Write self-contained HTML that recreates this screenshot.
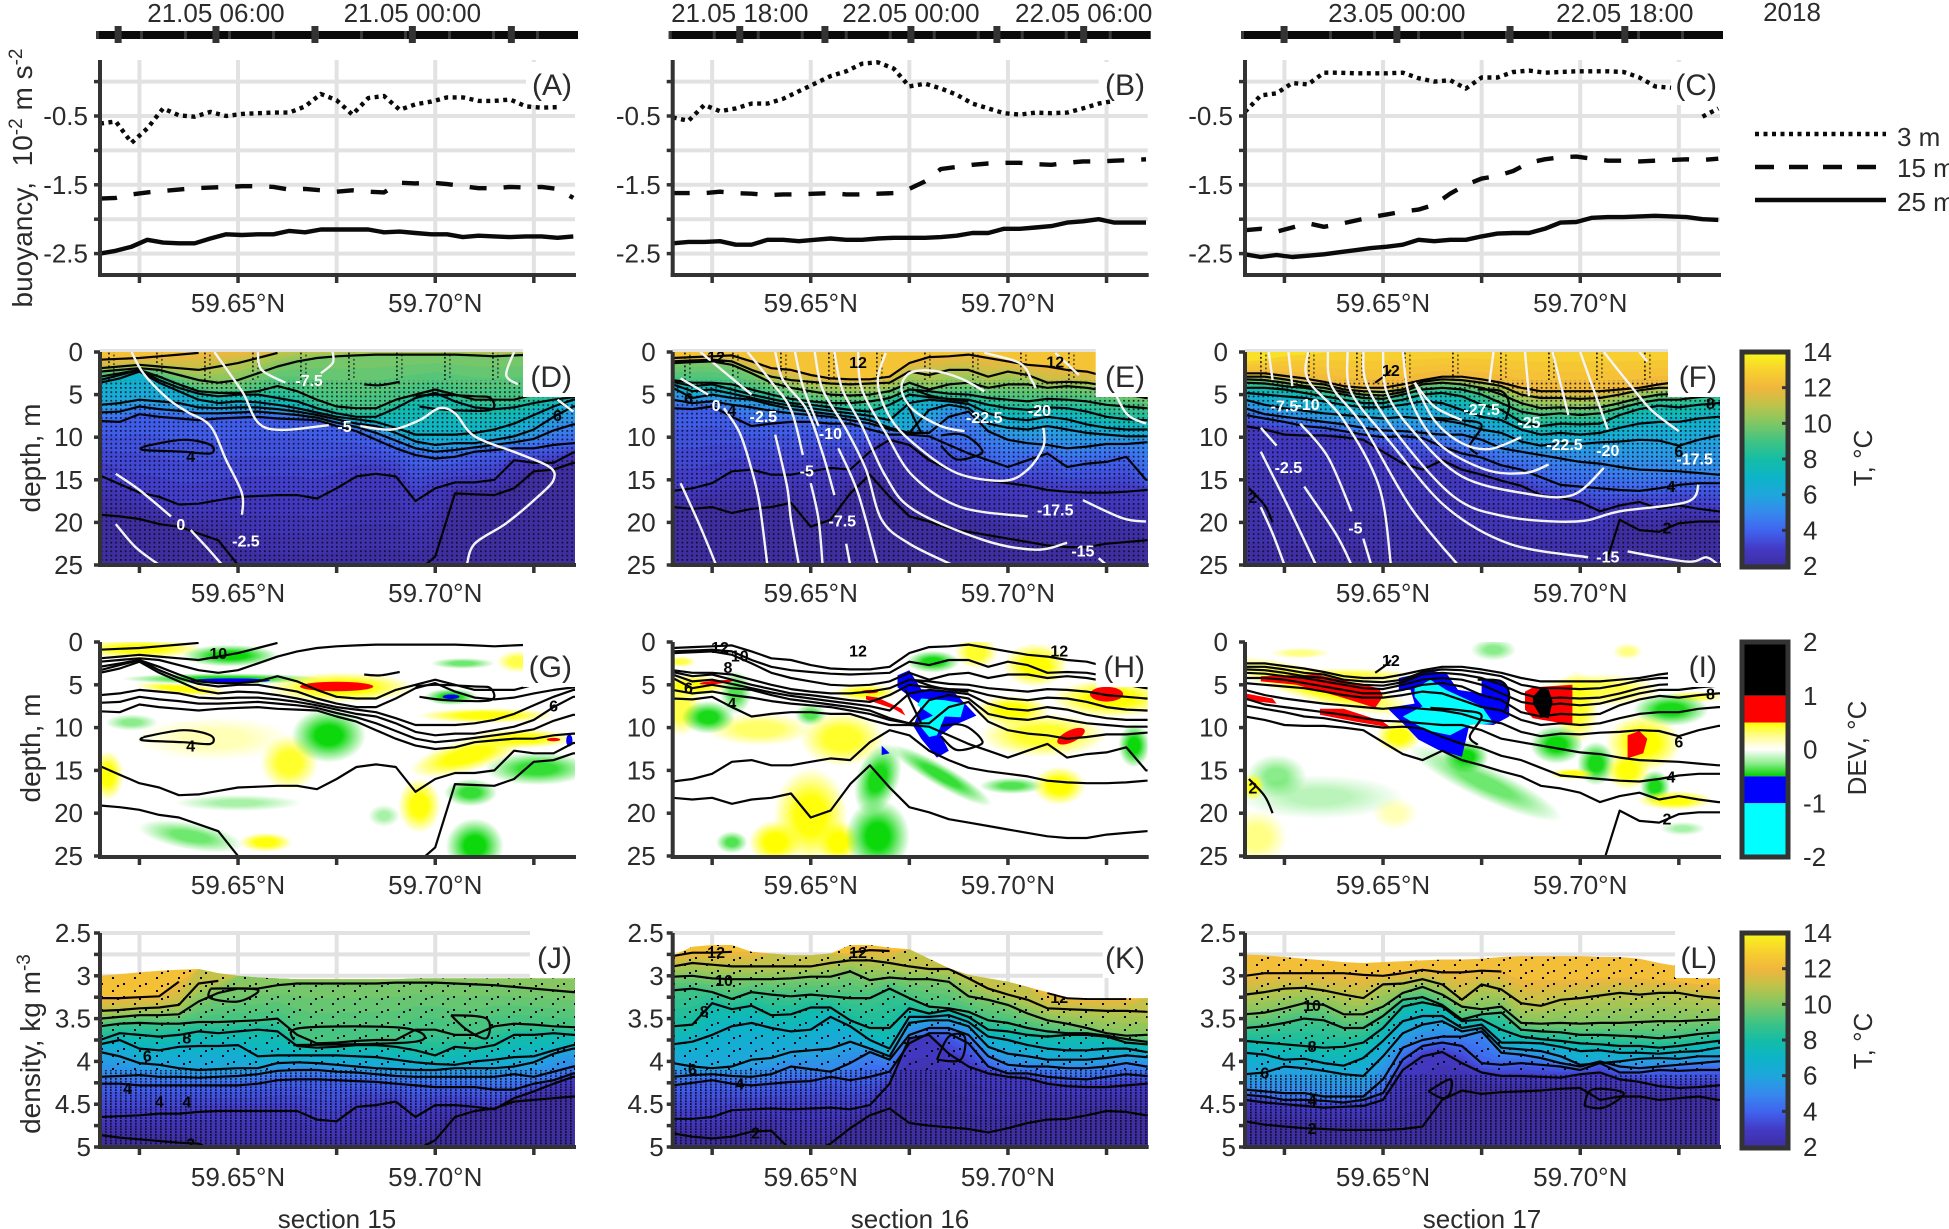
<!DOCTYPE html>
<html lang="en">
<head>
<meta charset="utf-8">
<title>Buoyancy and temperature sections 15-17</title>
<style>
html,body{margin:0;padding:0;background:#fff}
svg{display:block}
text{font-family:"Liberation Sans",Arial,sans-serif;fill:#2b2b2b}
</style>
</head>
<body>
<svg id="figure" xmlns="http://www.w3.org/2000/svg" width="1949" height="1229" viewBox="0 0 1949 1229">
<defs>
<pattern id="dotsDepth" width="4.8" height="4.3" patternUnits="userSpaceOnUse"><rect width="1.7" height="1.7" fill="#07071a" fill-opacity="0.85"/></pattern>
<pattern id="dotsColumn" width="48" height="4.3" patternUnits="userSpaceOnUse"><rect x="12" width="1.8" height="1.8" fill="#07071a" fill-opacity="0.85"/><rect x="17" y="2" width="1.8" height="1.8" fill="#07071a" fill-opacity="0.6"/></pattern>
<pattern id="dotsDense" width="5" height="2.8" patternUnits="userSpaceOnUse"><rect width="1.7" height="1.8" fill="#07071a" fill-opacity="0.85"/></pattern>
<pattern id="dotsSparse" width="22" height="13" patternUnits="userSpaceOnUse"><rect x="2" y="2" width="2" height="2" fill="#07071a"/><rect x="13" y="8" width="2" height="2" fill="#07071a"/><rect x="7" y="10" width="2" height="2" fill="#07071a"/></pattern>
<radialGradient id="softYellow"><stop offset="0" stop-color="#ffff00"/><stop offset="0.4" stop-color="#ffff00"/><stop offset="0.7" stop-color="#ffff00" stop-opacity="0.5"/><stop offset="1" stop-color="#ffff00" stop-opacity="0"/></radialGradient>
<radialGradient id="softGreen"><stop offset="0" stop-color="#0cd80c"/><stop offset="0.35" stop-color="#0cd80c"/><stop offset="0.7" stop-color="#0cd80c" stop-opacity="0.45"/><stop offset="1" stop-color="#0cd80c" stop-opacity="0"/></radialGradient>
<linearGradient id="tempGradient" x1="0" y1="1" x2="0" y2="0"></linearGradient>
<linearGradient id="devGradient" x1="0" y1="0" x2="0" y2="1">
<stop offset="0" stop-color="#ffff00"/><stop offset="0.25" stop-color="#fffc90"/><stop offset="0.5" stop-color="#ffffff"/><stop offset="0.75" stop-color="#90ee90"/><stop offset="1" stop-color="#00d000"/>
</linearGradient>
</defs>
<g id="marks"></g>
<g id="static-text">
<g font-size="26" text-anchor="middle">
<text x="337" y="1228">section 15</text>
<text x="910" y="1228">section 16</text>
<text x="1482" y="1228">section 17</text>
<text x="1792" y="21">2018</text>
</g>
<g font-size="26">
<text x="1897" y="146">3 m</text>
<text x="1897" y="177">15 m</text>
<text x="1897" y="211">25 m</text>
</g>
<g font-size="28" text-anchor="middle">
<text transform="translate(32,178) rotate(-90)">buoyancy,&#160;&#160;10<tspan font-size="19" dy="-10">-2</tspan><tspan dy="10">&#160;m s</tspan><tspan font-size="19" dy="-10">-2</tspan></text>
<text transform="translate(40,458) rotate(-90)">depth, m</text>
<text transform="translate(40,748) rotate(-90)">depth, m</text>
<text transform="translate(40,1044) rotate(-90)">density, kg m<tspan font-size="19" dy="-10">-3</tspan></text>
</g>
<g font-size="26" text-anchor="middle">
<text transform="translate(1872,458) rotate(-90)">T, °C</text>
<text transform="translate(1866,748) rotate(-90)">DEV, °C</text>
<text transform="translate(1872,1041) rotate(-90)">T, °C</text>
</g>
<g font-size="30" text-anchor="end">
<text x="572" y="95">(A)</text>
<text x="1145" y="95">(B)</text>
<text x="1717" y="95">(C)</text>
<text x="572" y="387">(D)</text>
<text x="1145" y="387">(E)</text>
<text x="1717" y="387">(F)</text>
<text x="572" y="677">(G)</text>
<text x="1145" y="677">(H)</text>
<text x="1717" y="677">(I)</text>
<text x="572" y="968">(J)</text>
<text x="1145" y="968">(K)</text>
<text x="1717" y="968">(L)</text>
</g>
</g>
</svg>
<script>
/* ---------- axis data ---------- */
const xTicks=[59.625,59.65,59.675,59.70,59.725];
const xLabelTicks=[59.65,59.70];
const xLabels=['59.65°N','59.70°N'];
const buoyTicks=[0,-0.5,-1,-1.5,-2,-2.5];
const buoyLabelTicks=[-0.5,-1.5,-2.5];
const buoyLabels=['-0.5','-1.5','-2.5'];
const depthTicks=[0,5,10,15,20,25];
const depthLabels=['0','5','10','15','20','25'];
const densTicks=[2.5,2.75,3,3.25,3.5,3.75,4,4.25,4.5,4.75,5];
const densLabelTicks=[2.5,3,3.5,4,4.5,5];
const densLabels=['2.5','3','3.5','4','4.5','5'];
const tempTicks=[14,12,10,8,6,4,2];
const devTicks=[2,1,0,-1,-2];
const timeTicksA=[59.6196,59.6444,59.6695,59.6942,59.7193];
const timeTicksB=[59.632,59.6536,59.6754,59.6972,59.7192];
const timeTicksC=[59.6249,59.6535,59.6822,59.7113];
const timeLabelsA=[null,'21.05 06:00',null,'21.05 00:00',null];
const timeLabelsB=['21.05 18:00',null,'22.05 00:00',null,'22.05 06:00'];
const timeLabelsC=[null,'23.05 00:00',null,'22.05 18:00'];

/* ---------- buoyancy series, 10^-2 m s^-2 ---------- */
const lineLat=[59.615,59.619,59.623,59.627,59.631,59.635,59.639,59.643,59.647,59.651,59.655,59.659,59.663,59.667,59.671,59.675,59.679,59.683,59.687,59.691,59.695,59.699,59.703,59.707,59.711,59.715,59.719,59.723,59.727,59.731,59.735];
const buoyA3=[-0.61,-0.58,-0.89,-0.68,-0.39,-0.49,-0.51,-0.44,-0.5,-0.47,-0.46,-0.45,-0.45,-0.36,-0.18,-0.27,-0.48,-0.24,-0.21,-0.41,-0.33,-0.29,-0.23,-0.23,-0.28,-0.28,-0.26,-0.36,-0.38,-0.37];
const buoyA15=[-1.70,-1.69,-1.64,-1.61,-1.59,-1.57,-1.55,-1.54,-1.53,-1.52,-1.52,-1.53,-1.57,-1.56,-1.58,-1.60,-1.58,-1.60,-1.61,-1.47,-1.48,-1.47,-1.49,-1.52,-1.55,-1.55,-1.53,-1.54,-1.53,-1.56,-1.69];
const buoyA25=[-2.50,-2.46,-2.40,-2.30,-2.34,-2.35,-2.35,-2.28,-2.22,-2.23,-2.22,-2.22,-2.17,-2.19,-2.15,-2.15,-2.15,-2.15,-2.19,-2.18,-2.20,-2.22,-2.22,-2.26,-2.24,-2.25,-2.26,-2.25,-2.25,-2.27,-2.25];
const buoyB3=[-0.52,-0.57,-0.34,-0.43,-0.39,-0.32,-0.32,-0.25,-0.14,-0.03,0.08,0.15,0.26,0.28,0.19,-0.07,-0.03,-0.10,-0.19,-0.32,-0.39,-0.46,-0.48,-0.45,-0.46,-0.45,-0.39,-0.32,-0.28];
const buoyB15=[-1.62,-1.62,-1.62,-1.60,-1.62,-1.63,-1.65,-1.64,-1.64,-1.63,-1.62,-1.64,-1.64,-1.63,-1.62,-1.56,-1.45,-1.27,-1.24,-1.21,-1.19,-1.18,-1.18,-1.20,-1.21,-1.18,-1.16,-1.16,-1.15,-1.14,-1.13];
const buoyB25=[-2.35,-2.33,-2.33,-2.32,-2.37,-2.37,-2.30,-2.30,-2.32,-2.30,-2.28,-2.30,-2.30,-2.28,-2.27,-2.27,-2.27,-2.26,-2.24,-2.20,-2.20,-2.14,-2.14,-2.12,-2.10,-2.05,-2.03,-2.00,-2.05,-2.05,-2.05];
const buoyC3=[-0.44,-0.20,-0.17,-0.02,-0.04,0.13,0.13,0.12,0.12,0.12,0.13,0.05,0,0.02,-0.10,0.06,0.06,0.14,0.16,0.13,0.14,0.15,0.15,0.15,0.14,0.06,-0.07,-0.09,null,-0.51,-0.39];
const buoyC15=[-2.16,-2.14,-2.18,-2.12,-2.06,-2.11,-2.07,-2.02,-1.97,-1.93,-1.89,-1.86,-1.79,-1.63,-1.50,-1.41,-1.37,-1.30,-1.18,-1.13,-1.10,-1.09,-1.12,-1.15,-1.15,-1.16,-1.15,-1.14,-1.13,-1.14,-1.12];
const buoyC25=[-2.51,-2.55,-2.52,-2.55,-2.53,-2.51,-2.48,-2.45,-2.42,-2.40,-2.37,-2.30,-2.32,-2.30,-2.30,-2.25,-2.21,-2.20,-2.20,-2.14,-2.05,-2.04,-1.98,-1.97,-1.97,-1.96,-1.95,-1.96,-1.97,-2.00,-2.01];

/* ---------- isotherm depths (m) at stations ---------- */
const stations=[59.615,59.62,59.625,59.63,59.635,59.64,59.645,59.65,59.655,59.66,59.665,59.67,59.675,59.68,59.685,59.69,59.695,59.70,59.705,59.71,59.715,59.72,59.725,59.73,59.735];
const D2=[19.1,19.3,19.6,20.2,20.5,21.3,22.1,25,26,26,26,26,26,26,26,26,26,24,16.6,16.7,16.8,16,14,13.8,13];
const D3=[14.5,15.5,16.5,17,17.9,17.8,17.4,17,16.9,16.8,16.8,17.2,16,14.6,14.3,14.6,17.5,16,15.3,15.3,15,12.7,13,13,11.8];
const D4=[8.1,8.2,7.3,7.6,7.8,8,7.8,7.7,7.6,7.8,7.9,8,8.7,9.3,10.3,11.3,12.1,12.5,12.3,11.7,11.5,11.3,11.3,10.9,10.7];
const D5=[7.1,7,6.4,6.7,6.9,7.2,7.2,7.1,7,7.2,7.4,7.7,8.3,8.8,9.5,10.4,11.3,11.7,11.5,11.2,10.9,10.6,10.2,9.2,8.5];
const D6=[6.2,6,5.6,5.8,6,6.5,6.6,6.5,6.5,6.7,7,7.4,7.9,8.4,8.7,9.5,10.5,10.9,10.7,10.7,10.3,9.9,9.1,7.6,6.4];
const D7=[3.6,3.1,2.3,3.6,4.6,5.6,6,5.8,5.9,6.2,6.6,7.1,7.6,7.9,8.2,8.9,9.7,9.7,9.7,9.5,9.1,8.4,7.4,6.4,5.6];
const D8=[3.3,2.7,2.1,3.3,4.2,4.9,5.2,5,5,5.4,5.8,6.6,7.2,7.6,7.6,6.6,5.4,4.8,5.8,6.5,6.7,6.5,6,5.6,5.3];
const D9=[2.9,2.5,2.1,2.9,3.8,4.6,4.8,4.8,4.6,4,4.6,5.6,6.4,6.6,6.6,5.6,5,4.4,5,5.6,5.6,5.6,5,4.6,4.4];
const D10=[2.3,2.1,1.9,2.1,2.7,3.3,3.6,3.3,2.5,1.7,1.1,0.7,0.5,0.4,0.3,0.3,0.3,0.3,0.3,0.4,0.5,0.4,0.3,0.2,0.1];
const D11=[1.9,1.7,1.5,1.7,1.9,2.1,1.7,1.3,0.7,0.1,0,0,0,0,0,0,0,0,0,0,0,0,0,0,0];
const D12=[0.9,0.8,0.7,0.5,0.3,0.1,0,0,0,0,0,0,0,0,0,0,0,0,0,0,0,0,0,0,0];

const E2=[18.2,18.4,18.2,18.9,18.4,18.2,17.7,20.5,19.7,16.6,14.4,17,19.3,19.9,20.7,21.1,21.5,21.9,22.3,22.7,22.9,22.9,22.5,22.3,22.1];
const E3=[16.3,16,15.4,14,13.8,14.4,14.4,14,13.6,13.8,11.7,10.3,10.9,12.7,13.8,14.7,15.1,15.4,15.7,16.2,16.4,16.5,16.5,16.4,16.2];
const E4=[6.6,6.7,6.4,7.6,8.7,8.4,8.2,8.2,8.4,8.4,9.1,9.7,9.7,9.9,10.9,11.9,12.7,13.5,12.7,11.9,13.5,13.1,12.9,12.3,15];
const E5=[5.6,6,5.8,6.2,6.5,6.9,7.2,7.4,7.6,8,8.4,9.1,9.5,9.5,7.6,7,9.3,10.3,10.7,10.9,11.3,11.1,10.8,10.8,10.6];
const E6=[4.2,5.4,5,5.4,5.6,6.2,6.7,7,7.3,7.6,8,8.9,9.5,6.8,6.2,6.6,8.4,8.9,9.1,8.7,9.1,9.5,9.7,9.9,9.9];
const E7=[3.8,4.6,4.4,4.9,5.4,5.9,6.3,6.6,6.9,7.2,7.5,8,6,5.6,5.8,6.1,7.2,7.8,8,7.6,7.9,8.5,8.9,9.1,9.1];
const E8=[3.5,4,3.8,4.4,5,5.5,6,6.2,6.5,6.8,7,6.2,5,5.3,5.5,5.6,6.2,6.6,6.8,6.5,6.6,7,7.6,7.9,8];
const E9=[3.3,3.6,3.6,3.8,4.4,5,5.5,5.8,6,6,5.8,5.4,4.4,4.6,4.9,5,5.4,5.6,5.8,5.5,5.6,5.8,6.2,6.4,6.6];
const E10=[1.3,1.2,1.1,1.5,2.5,3.6,4.2,4.6,5,5.1,5,4.6,3.6,4.4,3.8,3.6,4.2,3.8,3.8,4.2,4,4.2,4.6,5,5.4];
const E11=[1.1,1,0.9,1.1,2.1,2.9,3.3,3.5,3.7,3.8,3.7,3.6,2.3,2.7,2.1,2.1,2.9,2.3,2.7,3.6,3.5,3.6,4,4.2,4.6];
const E12=[0.7,0.6,0.5,0.4,1.1,1.9,2.1,2.7,3.1,3.2,3.2,2.9,1.3,0.6,0.5,0.3,0.7,1.1,1.5,1.7,2.1,2.3,2.9,3.5,3.8];

const F2=[27,27,27,27,27,27,27,27,27,27,27,27,27,27,27,27,27,27,27,19.7,20.9,21.1,20.1,19.9,19.9];
const F3=[8.7,9.1,9.7,9.8,9.8,10,10.3,11.7,13.1,13.8,12.7,13.8,14.4,15.1,15.7,16.8,17.1,17.6,18.7,18,17.6,18.4,18,18.4,18.7];
const F4=[7.4,7.8,8.2,8.7,8.9,9.3,9.7,10,9.9,10.1,11.1,11.9,12.4,13.3,13.8,14.7,15.6,15.8,16,16.2,16.3,16,15.6,15.4,15.4];
const F5=[6.6,7.3,7.6,7.9,8.2,8.5,8.9,9.2,9.3,9.5,9.7,9.7,10.3,11.3,11.7,12.1,12.5,12.9,13.1,13.5,13.8,13.9,14,14.2,14.4];
const F6=[5.6,6.2,6.6,6.9,7.2,7.4,7.6,7.8,7.6,7.8,8,8.4,9.1,9.5,10.5,11,10.7,10.8,10.6,10.5,10.3,10.4,11,10.3,9.8];
const F7=[4.8,5,5.2,5.4,5.8,6.2,6.5,6.5,6.2,5.8,6,6.8,7.6,8,9.1,9.7,9.5,9.7,9.5,8.9,8.4,8.2,8.2,7.8,7.6];
const F8=[4.2,4.2,4.4,4.8,5.2,5.6,6,6,5.6,5,4.8,5.2,6.2,6.8,8.2,8.7,8.4,8.5,8.4,7.4,6.7,6.3,6.5,6.2,6];
const F9=[3.6,3.7,4,4.2,4.6,5,5.4,5.5,5,4.4,4.2,4.4,5,6,7,7.4,7.2,7.4,7.2,6.6,6,5.6,5.6,5.3,5.1];
const F10=[3.2,3.3,3.6,4,4.2,4.7,5,5.1,4.7,3.8,3.6,3.8,4.2,5,6,6.6,6.5,6.6,6.5,6,5.4,5,4.9,4.6,4.4];
const F11=[2.9,2.9,3.2,3.6,3.8,4.4,4.6,4.7,4.4,3.5,3.2,3.3,3.6,4,5,5.4,5.4,5.5,5.4,5,4.5,4.2,4.2,4.2,4.2];
const F12=[2.5,2.5,2.8,3.1,3.5,4,4.2,4.2,3.8,3.3,2.9,2.9,3.2,3.6,4.2,4.6,4.6,4.6,4.6,4.4,4.2,3.8,3.5,3.2,3.2];
const F13=[1.1,0.9,0.5,0.3,0.1,0,0,0,0,0,0,0,0,0,0,0,0,0,0,0,0,0,0,0,0];

/* ---------- isotherm densities (kg m^-3) at stations ---------- */
const surfJ=[3.00,2.98,2.96,2.94,2.93,2.92,2.97,3.00,3.02,3.03,3.04,3.04,3.04,3.04,3.04,3.04,3.03,3.03,3.03,3.03,3.03,3.03,3.03,3.03,3.03];
const J2=[4.86,4.89,4.91,4.93,4.95,4.96,5.07,5.07,5.07,5.07,5.07,5.07,5.07,5.07,5.07,5.07,5.04,4.92,4.65,4.58,4.55,4.47,4.45,4.43,4.41];
const J3=[4.65,4.64,4.63,4.61,4.61,4.59,4.58,4.58,4.58,4.58,4.58,4.68,4.70,4.53,4.51,4.47,4.65,4.51,4.51,4.53,4.56,4.43,4.35,4.26,4.18];
const J4=[4.26,4.26,4.28,4.28,4.28,4.28,4.28,4.28,4.26,4.22,4.21,4.21,4.22,4.23,4.24,4.26,4.28,4.30,4.30,4.30,4.33,4.33,4.26,4.22,4.14];
const J5=[4.18,4.17,4.16,4.18,4.18,4.19,4.18,4.17,4.15,4.11,4.10,4.10,4.12,4.13,4.15,4.17,4.18,4.18,4.18,4.18,4.18,4.15,4.18,4.12,4.06];
const J6=[3.89,3.94,4.02,4.04,4.08,4.10,4.09,4.08,4.08,4.02,4.01,4.02,4.04,4.06,4.08,4.09,4.10,4.10,4.08,4.08,4.08,4.06,4.01,3.91,3.85];
const J7=[3.80,3.75,3.85,3.87,3.83,3.82,3.82,3.81,3.94,3.93,3.93,3.93,3.93,3.94,3.95,3.98,4.01,4.03,4.04,4.00,3.98,3.95,3.94,3.87,3.81];
const J8=[3.75,3.67,3.69,3.71,3.69,3.65,3.67,3.65,3.63,3.65,3.82,3.84,3.83,3.81,3.81,3.83,3.87,3.93,3.83,3.85,3.81,3.69,3.69,3.67,3.69];
const J9=[3.59,3.56,3.55,3.56,3.56,3.54,3.54,3.53,3.52,3.50,3.69,3.79,3.78,3.76,3.75,3.75,3.63,3.63,3.69,3.69,3.59,3.56,3.57,3.59,3.60];
const J10=[3.50,3.48,3.46,3.46,3.45,3.30,3.20,3.15,3.15,3.11,3.09,3.09,3.09,3.09,3.09,3.08,3.08,3.08,3.09,3.10,3.11,3.13,3.15,3.17,3.19];
const J11=[3.41,3.40,3.38,3.37,3.34,3.09,3.06,0,0,0,0,0,0,0,0,0,0,0,0,0,0,0,0,0,0];
const J12=[3.26,3.26,3.25,3.24,3.07,0,0,0,0,0,0,0,0,0,0,0,0,0,0,0,0,0,0,0,0];

const surfK=[2.76,2.66,2.64,2.64,2.72,2.74,2.76,2.76,2.74,2.64,2.64,2.67,2.69,2.80,2.91,2.99,3.03,3.07,3.13,3.19,3.25,3.26,3.26,3.26,3.26];
const K2=[4.84,4.88,4.90,4.88,4.82,4.81,5.04,5.07,4.96,4.78,4.63,4.55,4.72,4.75,4.77,4.79,4.83,4.78,4.72,4.68,4.67,4.63,4.58,4.59,4.63];
const K3=[4.67,4.67,4.65,4.57,4.56,4.55,4.56,4.55,4.54,4.56,4.51,4.26,3.73,3.69,3.91,4.06,4.14,4.18,4.20,4.26,4.29,4.30,4.30,4.28,4.26];
const K4=[4.28,4.25,4.22,4.26,4.28,4.26,4.24,4.23,4.18,4.22,4.18,4.12,3.79,3.67,3.67,3.79,4.06,4.14,4.14,4.18,4.20,4.21,4.18,4.15,4.17];
const K5=[4.18,4.16,4.15,4.17,4.18,4.15,4.06,4.09,4.12,4.02,3.89,3.98,3.69,3.61,3.61,3.69,3.94,4.04,4.06,4.06,4.08,4.08,4.06,4.02,4.06];
const K6=[4.02,4.06,4.08,4.06,3.98,3.96,3.89,3.87,3.85,3.77,3.85,3.94,3.55,3.52,3.52,3.59,3.83,3.91,3.94,3.98,3.98,3.98,3.96,3.93,3.95];
const K7=[3.80,3.77,3.69,3.59,3.55,3.61,3.65,3.63,3.48,3.59,3.75,3.85,3.48,3.48,3.46,3.54,3.71,3.75,3.81,3.85,3.87,3.87,3.85,3.85,3.89];
const K8=[3.59,3.57,3.32,3.39,3.35,3.46,3.45,3.37,3.37,3.52,3.61,3.61,3.38,3.44,3.40,3.48,3.63,3.65,3.69,3.71,3.69,3.69,3.71,3.78,3.80];
const K9=[3.17,3.15,3.19,3.27,3.19,3.22,3.24,3.22,3.24,3.26,3.26,3.15,3.26,3.36,3.38,3.42,3.52,3.55,3.61,3.65,3.67,3.67,3.70,3.74,3.77];
const K10=[3.01,3.00,3.03,3.04,3.04,3.04,3.03,3.01,3.01,2.95,3.05,3.02,3.04,3.04,3.07,3.24,3.28,3.34,3.44,3.52,3.56,3.61,3.67,3.70,3.69];
const K11=[2.89,2.85,2.87,2.89,2.89,2.89,2.89,2.89,2.85,2.82,2.82,2.85,2.89,2.92,2.92,3.03,3.15,3.22,3.28,3.38,3.39,3.40,3.41,3.41,3.42];
const K12=[2.77,2.73,2.73,2.72,2.72,0,0,0,0,2.73,2.70,2.71,0,0,0,0,0,0,0,3.20,3.26,3.27,3.27,3.27,0];

const surfL=[2.75,2.76,2.78,2.80,2.82,2.84,2.85,2.84,2.83,2.82,2.81,2.81,2.80,2.78,2.77,2.77,2.77,2.77,2.78,2.78,2.80,2.85,2.89,3.03,3.03];
const L2=[4.70,4.74,4.76,4.78,4.79,4.80,4.80,4.80,4.79,4.76,4.45,4.34,4.38,4.36,4.35,4.34,4.32,4.31,4.45,4.41,4.41,4.45,4.43,4.41,4.45];
const L3=[4.45,4.48,4.50,4.52,4.54,4.53,4.52,4.45,4.10,3.94,3.89,4.02,4.13,4.17,4.17,4.18,4.19,4.15,4.13,4.21,4.24,4.29,4.31,4.30,4.28];
const L4=[4.39,4.41,4.45,4.45,4.46,4.48,4.45,4.37,3.98,3.82,3.78,3.82,4.02,4.04,4.02,4.04,4.06,4.10,4.02,4.13,4.13,4.10,4.11,4.10,4.10];
const L5=[4.33,4.35,4.37,4.37,4.41,4.41,4.41,4.21,3.84,3.75,3.71,3.71,3.65,3.90,3.92,3.96,4.02,4.06,4.00,4.06,4.08,4.06,4.04,4.02,4.00];
const L6=[4.15,4.13,4.06,4.08,4.11,4.15,4.17,3.94,3.67,3.57,3.53,3.65,3.61,3.84,3.86,3.88,3.94,4.04,4.02,4.00,3.97,3.96,3.97,3.94,3.94];
const L7=[3.90,3.92,3.98,3.97,4.02,4.05,3.96,3.76,3.53,3.47,3.47,3.61,3.57,3.78,3.78,3.79,3.83,3.88,3.87,3.90,3.90,3.91,3.89,3.88,3.84];
const L8=[3.76,3.78,3.80,3.82,3.84,3.83,3.78,3.61,3.36,3.31,3.36,3.53,3.51,3.63,3.71,3.74,3.76,3.79,3.80,3.82,3.82,3.84,3.82,3.79,3.76];
const L9=[3.61,3.59,3.55,3.50,3.52,3.61,3.61,3.47,3.28,3.25,3.34,3.51,3.45,3.43,3.63,3.65,3.66,3.69,3.69,3.70,3.71,3.73,3.71,3.68,3.66];
const L10=[3.45,3.43,3.38,3.32,3.34,3.45,3.45,3.36,3.20,3.13,3.22,3.36,3.39,3.36,3.55,3.56,3.55,3.56,3.55,3.55,3.54,3.53,3.53,3.52,3.51];
const L11=[3.22,3.19,3.15,3.14,3.17,3.22,3.26,3.10,3.09,3.04,3.10,3.28,3.10,3.16,3.32,3.35,3.28,3.26,3.23,3.20,3.22,3.20,3.20,3.24,3.26];
const L12=[3.00,2.97,2.97,2.97,2.97,2.97,2.99,3.00,2.97,2.93,2.96,2.96,2.94,2.95,3.05,3.05,3.05,3.04,3.03,3.02,3.03,3.05,3.07,3.10,3.10];
const L12Contour=[3.00,2.97,2.97,2.97,2.97,2.97,2.99,3.00,2.97,2.93,2.96,2.96,2.94,2.95,0,0,0,0,0,0,0,0,0,0,0];

/* ---------- extra closed/short black contours ---------- */
const extraLatD=[[59.626,59.636,59.643,59.643,59.636,59.626,59.626],[59.682,59.686,59.691],[59.695,59.700,59.710,59.714,59.714,59.703,59.696]];
const extraDepD=[[11.1,10.3,10.9,11.9,11.7,11.5,11.1],[3.8,3.9,3.5],[5.2,5,5.2,5.4,6.8,6.8,6.4]];
const extraLatE=[[59.676,59.681,59.686,59.690],[59.674,59.676,59.678],[59.683,59.687,59.690,59.693,59.693,59.687,59.683]];
const extraDepE=[[4.4,5.2,5.6,5.8],[5.6,7.6,9.5],[9.8,9.6,10,11.2,12,12.6,11]];
const extraLatF=[[59.616,59.620,59.622],[59.648,59.651,59.652],[59.662,59.670,59.675,59.672,59.674],[59.674,59.680,59.682,59.681]];
const extraDepF=[[16,18,20],[3.6,2.6,2.1],[7.7,8,8.6,11,12],[4.4,4.6,6.2,8]];
const extraLatJ=[[59.643,59.653,59.655,59.650,59.643,59.643],[59.664,59.666,59.692,59.695,59.664],[59.704,59.713,59.713,59.708,59.704]];
const extraDensJ=[[3.15,3.15,3.19,3.30,3.26,3.15],[3.75,3.61,3.61,3.77,3.81],[3.46,3.50,3.73,3.63,3.46]];
const extraLatK=[[59.682,59.685,59.689,59.688,59.682]];
const extraDensK=[[3.98,3.71,3.71,3.98,3.98]];
const extraLatL=[[59.6615,59.667,59.667,59.665,59.6615],[59.701,59.706,59.711,59.703,59.701]];
const extraDensL=[[4.35,4.21,4.37,4.43,4.35],[4.52,4.54,4.37,4.33,4.52]];

/* ---------- black contour labels ---------- */
const labelTextD=['6','4'];const labelLatD=[59.731,59.638];const labelDepD=[7.4,12.2];
const labelTextE=['12','12','12','6','4'];const labelLatE=[59.626,59.662,59.712,59.619,59.630];const labelDepE=[0.5,1.2,1.1,5.4,6.8];
const labelTextF=['12','8','6','4','2','2'];const labelLatF=[59.652,59.733,59.725,59.723,59.722,59.617];const labelDepF=[2.1,6,11.6,15.7,20.6,17];
const labelTextG=['10','6','4'];const labelLatG=[59.645,59.730,59.638];const labelDepG=[1.3,7.4,12.1];
const labelTextH=['12','10','8','6','4','12','12'];const labelLatH=[59.627,59.632,59.629,59.619,59.630,59.662,59.713];const labelDepH=[0.6,1.6,2.9,5.3,7.1,1,1];
const labelTextI=['12','8','6','4','2','2'];const labelLatI=[59.652,59.733,59.725,59.723,59.722,59.617];const labelDepI=[2.1,6,11.6,15.7,20.6,17];
const labelTextJ=['8','6','4','2','4','4'];const labelLatJ=[59.637,59.627,59.622,59.638,59.630,59.637];const labelDensJ=[3.72,3.93,4.31,4.96,4.47,4.47];
const labelTextK=['12','12','12','10','8','6','4','2'];const labelLatK=[59.626,59.662,59.713,59.628,59.623,59.620,59.632,59.636];const labelDensK=[2.72,2.72,3.25,3.05,3.41,4.09,4.26,4.83];
const labelTextL=['10','8','6','4','2'];const labelLatL=[59.632,59.632,59.620,59.632,59.632];const labelDensL=[3.34,3.82,4.13,4.45,4.78];

/* ---------- white (density anomaly) contours ---------- */
const whiteLatD=[[59.619,59.625,59.633],[59.638,59.642,59.646],[59.619,59.624,59.630],[59.623,59.626,59.632,59.637,59.643,59.647,59.651,59.651],[59.644,59.651,59.657,59.673],[59.681,59.689,59.696,59.701,59.705,59.710,59.721,59.729,59.730,59.726,59.718,59.710,59.708],[59.655,59.656,59.662],[59.674,59.674,59.671],[59.720,59.718,59.721],[59.731,59.735]];
const whiteDepD=[[14.3,16.2,19.3],[20.9,22.9,25],[20.2,22.9,25],[0,2.5,5.4,7,8.7,12.7,16.6,19.1],[0,4.6,8.9,8.6],[8.7,9.1,8,6.6,7.2,9.9,11.9,13.5,15,17,20.1,22.5,25],[0,2.1,3.6],[0,1.3,2.5],[0,2.7,3.8],[5.6,7]];
const whiteTextD=['-7.5','-5','0','-2.5'];const whiteTextLatD=[59.668,59.677,59.6355,59.652];const whiteTextDepD=[3.3,8.7,20.2,22.1];

const whiteLatE=[[59.617,59.624],[59.628,59.632,59.635,59.637,59.639],[59.617,59.622,59.626],[59.622,59.629,59.635],[59.641,59.644,59.645,59.647],[59.634,59.640,59.645,59.648],[59.650,59.652,59.653],[59.641,59.643,59.649,59.653,59.656],[59.659,59.660],[59.646,59.648,59.652],[59.657,59.662,59.667],[59.651,59.653,59.659,59.664,59.668,59.675,59.686],[59.656,59.658,59.663,59.669,59.676,59.694,59.707,59.715],[59.723,59.725],[59.662,59.663,59.669,59.676,59.688,59.705],[59.719,59.729,59.735],[59.669,59.667,59.670,59.676,59.687,59.699,59.705,59.709,59.709],[59.689,59.683,59.676,59.673,59.675,59.681,59.688,59.694],[59.694,59.703,59.706,59.707],[59.712,59.718],[59.726,59.730,59.735]];
const whiteDepE=[[3.1,5],[6.6,9.5,13.8,17.8,25],[15.4,20.5,25],[0,2.7,5],[9.7,15.8,19.7,25],[0,3.5,6.8,12.1],[15.4,19.7,25],[0,3.3,6.8,11.9,16.8],[22.5,25],[0,4,8.7],[11.3,16.6,25],[0,4.4,9.1,13.8,19.7,22.5,25],[0,4.4,8.7,14.6,18.5,22.1,23.2,22.4],[24.2,25],[0,4.4,9.5,14.6,18.2,19.3],[17.4,19.5,19.9],[0.1,3.6,7.6,10.7,14.2,15.1,13.8,11.1,8.9],[9.3,8.7,6.8,4.4,2.5,2.2,3.1,4.6],[0.1,1.3,3.3,4.2],[0.1,2.7],[3.6,7.2,8.4]];
const whiteTextE=['0','-2.5','-5','-7.5','-10','-17.5','-15','-22.5','-20'];const whiteTextLatE=[59.626,59.638,59.649,59.658,59.655,59.712,59.719,59.694,59.708];const whiteTextDepE=[6.2,7.5,13.9,19.8,9.5,18.5,23.3,7.6,6.8];

const whiteLatF=[[59.619,59.623],[59.619,59.626,59.633],[59.619,59.622,59.625],[59.630,59.638,59.642],[59.621,59.622],[59.626,59.627],[59.629,59.636,59.642],[59.645,59.647],[59.631,59.631,59.640,59.649,59.652],[59.636,59.637,59.645,59.657,59.669],[59.641,59.642,59.652,59.666,59.682,59.702],[59.712,59.727,59.732,59.735],[59.645,59.646,59.654,59.668,59.681,59.699,59.710,59.727,59.730],[59.650,59.651,59.658,59.670,59.686,59.698,59.706],[59.655,59.657,59.664,59.676,59.686,59.692],[59.658,59.663,59.670,59.677,59.685],[59.658,59.663,59.670],[59.678,59.677],[59.686,59.687],[59.693,59.697],[59.700,59.707],[59.706,59.712,59.718,59.725],[59.715,59.717]];
const whiteDepF=[[8.9,11],[11.7,18.2,25],[18.2,21.3,25],[15.8,21.3,25],[0,3.3],[0,4],[8.4,12.3,18.7],[21.9,25],[0,3.3,8,15.8,25],[0,4,8.7,18.2,25],[0,4.8,10.7,18.2,22.5,24.1],[23.4,24.6,24.1,25],[0,4,9.9,17,19.3,19.9,18.7,17.6,15.6],[0,4.8,9.5,14.6,16.6,16.8,13.6],[0,5.6,10.7,13.8,14.2,13.2],[3.6,8,10.7,11.4,10],[3.6,6.4,8],[0,3.6],[0,5.2],[0,7.4],[0,9.1],[0,3.5,6.8,9.3],[0,1.1]];
const whiteTextF=['-27.5','-25','-22.5','-20','-17.5','-15','-5','-2.5','-7.5','-10'];const whiteTextLatF=[59.675,59.687,59.696,59.707,59.729,59.707,59.643,59.626,59.625,59.631];const whiteTextDepF=[6.7,8.2,10.8,11.5,12.5,24,20.6,13.5,6.3,6.1];

/* ---------- temperature deviation field (G, H, I) ---------- */
const devGLat=[59.625,59.648,59.721,59.707,59.646,59.648,59.636,59.676,59.675,59.704,59.704,59.713,59.673,59.663,59.708,59.617,59.623,59.710,59.709,59.726,59.696,59.657,59.638,59.722,59.730,59.734,59.687,59.650,59.644];
const devGDep=[0.8,1.6,2.3,2.5,4.3,4.5,5.5,5.3,5.2,6.4,6.4,8.6,10.9,14.1,13.3,15.6,9.4,23.8,17.6,14.8,19.1,23.4,22.7,11.3,11.4,11.5,20.3,18.8,11.3];
const devGVal=[0.4,-0.45,0.3,-0.25,-0.4,-0.8,0.4,0.45,0.8,-0.4,-0.8,0.4,-0.45,0.35,0.4,0.4,-0.2,-0.45,-0.35,-0.35,0.4,0.4,-0.25,0.4,0.8,-0.8,-0.15,-0.15,0.12];
const devGLatHalf=[0.0101,0.0076,0.0034,0.0051,0.016,0.0101,0.0076,0.0118,0.0093,0.0042,0.0021,0.0109,0.0059,0.0046,0.0093,0.0025,0.0042,0.0046,0.0042,0.0084,0.0034,0.0042,0.0084,0.0084,0.0017,0.0008,0.0025,0.0101,0.0126];
const devGDepHalf=[0.7,0.8,0.8,0.4,0.4,0.25,0.4,1.1,0.55,0.6,0.27,0.55,2,2,1.2,1.8,0.6,2,1,1.2,2,0.7,1,0.7,0.2,0.7,0.8,0.6,1.6];
const devGTilt=[0,0,0,0,0,0,5,0,0,0,0,0,0,0,-15,0,0,0,0,0,0,0,10,0,0,0,0,0,0];

const devHLat=[59.617,59.620,59.626,59.617,59.624,59.631,59.650,59.630,59.641,59.650,59.657,59.637,59.658,59.667,59.667,59.683,59.701,59.713,59.709,59.716,59.701,59.726,59.725,59.732,59.707,59.692,59.681,59.664,59.665];
const devHDep=[2.3,5.1,4.7,7.8,8.8,5.9,8.5,23.4,23.4,20.3,23.4,10.2,11.3,22.7,16,15.6,16.8,16.8,10.9,11,8,6.6,6.1,12.1,2.7,1.2,2.3,5.9,5.8];
const devHVal=[0.3,0.4,0.8,0.3,-0.4,-0.3,-0.3,-0.3,0.45,0.4,0.45,0.25,0.35,-0.45,-0.4,-0.35,-0.3,0.45,0.35,0.8,0.45,0.45,0.8,-0.45,0.45,0.35,-0.4,0.4,0.8];
const devHLatHalf=[0.0025,0.0059,0.0042,0.0034,0.0042,0.0025,0.0025,0.0025,0.0042,0.0059,0.0034,0.0084,0.0067,0.0051,0.0034,0.0093,0.0051,0.0042,0.0101,0.0038,0.0059,0.0093,0.0042,0.0025,0.0051,0.0034,0.0042,0.0051,0.0021];
const devHDepHalf=[0.4,0.8,0.2,2,1.2,1.6,0.8,0.8,1.6,3.5,1.6,1.2,2,2.7,2.7,0.8,0.6,1.4,1.6,0.7,1.1,1.4,0.86,1.6,1.6,1.2,0.8,0.6,0.2];
const devHTilt=[0,0,-5,0,0,0,0,0,0,0,0,0,0,0,20,30,0,0,0,-25,0,0,0,0,0,0,0,0,0];

const devILat=[59.699,59.716,59.705,59.723,59.694,59.704,59.698,59.712,59.719,59.724,59.617,59.623,59.618,59.671,59.676,59.726,59.654,59.678,59.629,59.640,59.729,59.653,59.634,59.712,59.634];
const devIDep=[7.7,11.8,5.6,7.9,12,14.2,15.4,15,16.9,18.5,16.9,15.7,22.8,13.4,16.5,21.8,11,0.9,1.3,4,6.4,20,18.1,1.1,5.2];
const devIVal=[0.35,0.45,0.3,-0.4,-0.45,-0.4,0.4,0.4,-0.4,0.4,0.4,-0.2,0.2,-0.45,-0.25,-0.15,0.4,-0.2,0.2,0.3,0.3,0.12,-0.12,0.2,0.45];
const devILatHalf=[0.0036,0.006,0.0097,0.006,0.0042,0.003,0.0036,0.0036,0.0024,0.006,0.0018,0.0048,0.0048,0.0036,0.0133,0.0036,0.0036,0.0036,0.0048,0.0121,0.0048,0.0036,0.0133,0.0024,0.016];
const devIDepHalf=[2.7,2.1,1.2,1.2,1.4,1.6,0.4,1.4,1.2,0.7,1,1.6,2,1.2,1.2,0.5,1.2,0.8,0.4,0.6,0.4,1.2,1.6,0.6,1.2];
const devITilt=[0,0,0,0,0,0,0,0,0,0,0,0,0,0,25,0,0,0,0,0,0,0,0,0,15];

const polyHVal=[-0.8,-1.5,-0.8,0.8];
const polyHLat=[[59.672,59.675,59.678,59.686,59.692,59.686,59.683,59.685,59.682,59.678,59.676,59.678,59.672],[59.678,59.684,59.689,59.688,59.684,59.682,59.680,59.677,59.681,59.677],[59.668,59.670,59.668],[59.664,59.667,59.673,59.674,59.671,59.664]];
const polyHDep=[[3.9,3.3,5.5,5.7,8.6,9.8,10.9,12.7,13.5,11.3,9.8,7.4,5.3],[6.6,6.8,7.2,8.8,8.7,10.9,11.1,9.4,8.6,7.4],[12.1,13,13.2],[6.3,6.5,7.8,8.6,7.8,6.7]];

const polyIVal=[0.8,0.8,0.8,-0.8,-1.5,0.8,1.5,0.8];
const polyILat=[[59.619,59.633,59.649,59.650,59.648,59.639,59.628,59.619],[59.615,59.622,59.623,59.615],[59.634,59.640,59.650,59.652,59.643,59.634],[59.654,59.662,59.666,59.669,59.675,59.675,59.680,59.682,59.682,59.678,59.672,59.670,59.664,59.659,59.655,59.651,59.658,59.657,59.654],[59.658,59.662,59.666,59.675,59.678,59.672,59.667,59.661,59.655,59.660,59.658],[59.686,59.688,59.698,59.698,59.688,59.686],[59.688,59.690,59.692,59.693,59.692,59.690,59.688],[59.712,59.715,59.717,59.716,59.712]];
const polyIDep=[[4,3.8,5.4,6.4,7.7,6.4,5,4.6],[6,6.6,7.2,6.8],[7.8,7.8,9.3,10,9.3,8.5],[4.2,3.4,3.6,5.6,6,4.2,4.6,5.4,8.7,9.7,9.5,13.4,12.6,11.4,9.5,7.7,7.2,5.6,5.6],[5.4,4.4,5.6,7.5,9.5,9.7,10.9,10.3,8.7,7.5,6.4],[5.8,5.3,5,9.7,8.9,7.9],[6.4,5.4,5.6,7,8.9,8.7,7.2],[10.9,10.4,11.3,13,13.6]];

/* ---------- colormap and colorbar data ---------- */
const tempStops=[2,3,4,5,6,7,8,9,10,11,12,13,14];
const tempColors=['#3e2e9f','#4339c4','#4062ee','#3688ee','#1fa6dc','#0db4c8','#14bda6','#3fc384','#7ec765','#bcc34a','#f1b63c','#f8d22e','#f8f81a'];
const devBounds=[2,1,0.5,-0.5,-1,-2];
const devBandColors=['#000000','#ff0000','url(#devGradient)','#0000ff','#00ffff'];

/* ---------- geometry ---------- */
const svgNS='http://www.w3.org/2000/svg';
const marks=document.getElementById('marks');
const COL_X=[100,672.7,1245];
const PANEL_W=475;
const xAt=(col,lat)=>COL_X[col]+(lat-59.615)*3944;
const yBuoy=v=>116+(-0.5-v)*68.8;
const yDepth2=d=>352+d*8.52;
const yDepth3=d=>642+d*8.56;
const yDens=p=>933+(p-2.5)*85.6;
const yTemp=(top,t)=>top+(14-t)*(214/12);

function add(parent,tag,attrs,txt){
  const el=document.createElementNS(svgNS,tag);
  for(const k in attrs)el.setAttribute(k,attrs[k]);
  if(txt!==undefined)el.textContent=txt;
  parent.appendChild(el);
  return el;
}
function hex(c){return[parseInt(c.slice(1,3),16),parseInt(c.slice(3,5),16),parseInt(c.slice(5,7),16)];}
function tempColor(t){
  t=Math.max(2,Math.min(14,t));
  const i=Math.min(tempStops.length-2,Math.floor(t-2));
  const f=t-tempStops[i],a=hex(tempColors[i]),b=hex(tempColors[i+1]);
  return 'rgb('+a.map((v,k)=>Math.round(v+(b[k]-v)*f)).join(',')+')';
}
const grad=document.getElementById('tempGradient');
tempStops.forEach((t,i)=>{add(grad,'stop',{offset:(t-2)/12,'stop-color':tempColors[i]});});

let clipCount=0;
function makeClip(pointsOrRect){
  const id='clip'+(++clipCount);
  const c=add(document.querySelector('defs'),'clipPath',{id});
  if(typeof pointsOrRect==='string')add(c,'polygon',{points:pointsOrRect});
  else add(c,'rect',pointsOrRect);
  return id;
}
function smoothPath(pts){
  if(pts.length<3)return 'M'+pts.map(p=>p[0].toFixed(1)+' '+p[1].toFixed(1)).join('L');
  let d='M'+pts[0][0].toFixed(1)+' '+pts[0][1].toFixed(1);
  for(let i=0;i<pts.length-1;i++){
    const p0=pts[Math.max(0,i-1)],p1=pts[i],p2=pts[i+1],p3=pts[Math.min(pts.length-1,i+2)];
    const c1=[p1[0]+(p2[0]-p0[0])/6,p1[1]+(p2[1]-p0[1])/6],c2=[p2[0]-(p3[0]-p1[0])/6,p2[1]-(p3[1]-p1[1])/6];
    d+='C'+c1[0].toFixed(1)+' '+c1[1].toFixed(1)+' '+c2[0].toFixed(1)+' '+c2[1].toFixed(1)+' '+p2[0].toFixed(1)+' '+p2[1].toFixed(1);
  }
  return d;
}

/* ---------- shared axis pieces ---------- */
function drawAxes(col,top,bottom,yF,ticks,labelTicks,labels,latBaseline,labelGap){
  const x0=COL_X[col];
  const axisV=add(marks,'line',{x1:x0,x2:x0,y1:top,y2:bottom+2,stroke:'#333',"stroke-width":4});
  
  
  const axisH=add(marks,'line',{x1:x0-2,x2:x0+PANEL_W+1,y1:bottom,y2:bottom,stroke:'#333',"stroke-width":4});
  
  
  ticks.forEach(v=>{
    const t=add(marks,'line',{x1:x0-6,x2:x0,y1:yF(v),y2:yF(v),stroke:'#333',"stroke-width":3.5});
    
    
  });
  labelTicks.forEach((v,i)=>{
    const t=add(marks,'text',{x:x0-labelGap,y:yF(v)+9,'font-size':26,'text-anchor':'end'},labels[i]);
    
    
  });
  xTicks.forEach(lat=>{
    const t=add(marks,'line',{x1:xAt(col,lat),x2:xAt(col,lat),y1:bottom,y2:bottom+8,stroke:'#333',"stroke-width":3.5});
    
    
  });
  xLabelTicks.forEach((lat,i)=>{
    const t=add(marks,'text',{x:xAt(col,lat),y:latBaseline,'font-size':26,'text-anchor':'middle'},xLabels[i]);
    
    
  });
}
function whiteMask(col,top,bottom,dx){
  const m=add(marks,'rect',{x:COL_X[col]+dx,y:top,width:PANEL_W-dx+3,height:bottom-top,fill:'#fff'});
  
  
}

/* ---------- time bars ---------- */
function drawTimeBar(col,ticks,labels){
  const x0=COL_X[col];
  const bar=add(marks,'rect',{x:x0-4,y:31,width:PANEL_W+7,height:8,fill:'#0a0a0a'});
  
  
  const marksOverlay=add(marks,'line',{x1:x0-4,x2:x0+PANEL_W+3,y1:35,y2:35,stroke:'#3a3a3a','stroke-width':8,'stroke-dasharray':'3 41'});
  
  
  ticks.forEach((lat,i)=>{
    const t=add(marks,'rect',{x:xAt(col,lat)-3.5,y:26,width:7,height:17,fill:'#333'});
    
    
    if(labels[i]){
      const l=add(marks,'text',{x:xAt(col,lat),y:22,'font-size':26,'text-anchor':'middle'},labels[i]);
      
      
    }
  });
}

/* ---------- buoyancy panels ---------- */
function drawBuoyPanel(col,s3,s15,s25){
  const x0=COL_X[col];
  buoyTicks.forEach(v=>{
    const g=add(marks,'line',{x1:x0,x2:x0+PANEL_W,y1:yBuoy(v),y2:yBuoy(v),stroke:'#e2e2e2','stroke-width':4});
    
    
  });
  xTicks.forEach(lat=>{
    const g=add(marks,'line',{x1:xAt(col,lat),x2:xAt(col,lat),y1:60,y2:275,stroke:'#e2e2e2','stroke-width':4});
    
    
  });
  whiteMask(col,62,105,426);
  const defs=[[s25,'none','buoyancy-25m'],[s15,'17 17','buoyancy-15m'],[s3,'4 4.5','buoyancy-3m']];
  defs.forEach(df=>{
    let d='',pen=false;
    df[0].forEach((v,i)=>{
      if(v===null||v===undefined){pen=false;return;}
      d+=(pen?'L':'M')+xAt(col,lineLat[i]).toFixed(1)+' '+yBuoy(v).toFixed(1);
      pen=true;
    });
    const p=add(marks,'path',{d,fill:'none',stroke:'#0a0a0a','stroke-width':4.4,'stroke-dasharray':df[1],'stroke-linejoin':'round'});
    
    
  });
  drawAxes(col,60,275,yBuoy,buoyTicks,buoyLabelTicks,buoyLabels,312,12);
}

/* ---------- isotherm fields ---------- */
function at(arr,i){return arr[i]===undefined?arr[arr.length-1]:arr[i];}
function drawField(col,levels,arrays,surf,yF,clipId,topT){
  const g=add(marks,'g',{'clip-path':'url(#'+clipId+')'});
  
  
  const bg=add(g,'rect',{x:COL_X[col],y:300,width:PANEL_W,height:900,fill:tempColor(topT)});
  
  
  const N=4;
  const last=stations.length-1;
  const bandPath=(depthAt,color)=>{
    const edge=i=>yF(Math.max(depthAt(i),surf?surf[i]:0)).toFixed(1);
    const pts=stations.map((lat,i)=>xAt(col,lat).toFixed(1)+','+edge(i));
    pts.push((COL_X[col]+PANEL_W+3)+','+edge(last));
    pts.push((COL_X[col]+PANEL_W+3)+',1229');
    pts.push(COL_X[col]+',1229');
    const p=add(g,'polygon',{points:pts.join(' '),fill:color});
    
    
  };
  for(let k=levels.length-2;k>=0;k--){
    for(let s=0;s<N;s++){
      const f=s/N;
      bandPath(i=>at(arrays[k+1],i)+(at(arrays[k],i)-at(arrays[k+1],i))*f,
               tempColor(levels[k+1]-(s+0.5)/N*(levels[k+1]-levels[k])));
    }
  }
  bandPath(i=>at(arrays[0],i),tempColor(levels[0]-0.35));
}
function drawContours(parent,col,levels,arrays,surf,yF,width){
  levels.forEach((lv,k)=>{
    if(lv>12)return;
    let d='',pen=false;
    stations.forEach((lat,i)=>{
      const v=at(arrays[k],i),s=surf?surf[i]:0;
      if(v<=s+0.001){pen=false;return;}
      d+=(pen?'L':'M')+xAt(col,lat).toFixed(1)+' '+yF(v).toFixed(1);
      pen=true;
    });
    if(pen)d+='L'+(COL_X[col]+PANEL_W)+' '+yF(at(arrays[k],stations.length-1)).toFixed(1);
    const p=add(parent,'path',{d,fill:'none',stroke:'#050505','stroke-width':width,'stroke-linejoin':'round'});
    
    
  });
}
function drawExtras(parent,col,lats,vals,yF,width){
  lats.forEach((ls,j)=>{
    const pts=ls.map((lat,i)=>[xAt(col,lat),yF(vals[j][i])]);
    const p=add(parent,'path',{d:smoothPath(pts),fill:'none',stroke:'#050505','stroke-width':width});
    
    
  });
}
function drawWhite(parent,col,lats,deps,yF){
  lats.forEach((ls,j)=>{
    const pts=ls.map((lat,i)=>[xAt(col,lat),yF(deps[j][i])]);
    const p=add(parent,'path',{d:smoothPath(pts),fill:'none',stroke:'#f4f4f4','stroke-width':2.4});
    
    
  });
}
function drawTexts(parent,col,texts,lats,vals,yF,fill){
  texts.forEach((tx,i)=>{
    const t=add(parent,'text',{x:xAt(col,lats[i]),y:yF(vals[i])+6,'font-size':16,'font-weight':'bold','text-anchor':'middle',style:'fill:'+fill},tx);
    
    
  });
}
function dots(parent,col,yTop,yBottom,pattern,clipId){
  const r=add(parent,'rect',{x:COL_X[col],y:yTop,width:PANEL_W,height:yBottom-yTop,fill:'url(#'+pattern+')','clip-path':'url(#'+clipId+')'});
  
  
}

/* ---------- depth panels (D, E, F) ---------- */
function drawDepthPanel(col,levels,arrays,topT,whiteLat,whiteDep,whiteText,whiteTextLat,whiteTextDep,labT,labLat,labDep,exLat,exDep){
  const x0=COL_X[col];
  const top=add(marks,'line',{x1:x0,x2:x0+PANEL_W,y1:351,y2:351,stroke:'#e2e2e2','stroke-width':4});
  
  
  const clip=makeClip({x:x0,y:352,width:PANEL_W,height:213});
  drawField(col,levels,arrays,null,yDepth2,clip,topT);
  const g=add(marks,'g',{'clip-path':'url(#'+clip+')'});
  
  
  dots(g,col,380,565,'dotsDepth',clip);
  dots(g,col,352,380,'dotsColumn',clip);
  drawContours(g,col,levels,arrays,null,yDepth2,2.2);
  drawExtras(g,col,exLat,exDep,yDepth2,2.2);
  drawWhite(g,col,whiteLat,whiteDep,yDepth2);
  drawTexts(g,col,labT,labLat,labDep,yDepth2,'#050505');
  drawTexts(g,col,whiteText,whiteTextLat,whiteTextDep,yDepth2,'#ffffff');
  whiteMask(col,349,397,423);
  drawAxes(col,352,565,yDepth2,depthTicks,depthTicks,depthLabels,602,17);
}

/* ---------- deviation panels (G, H, I) ---------- */
function drawDevPanel(col,levels,arrays,vLat,vDep,vVal,vLatH,vDepH,vTilt,pVal,pLat,pDep,labT,labLat,labDep,exLat,exDep){
  const x0=COL_X[col];
  const clip=makeClip({x:x0,y:642,width:PANEL_W,height:214});
  const g=add(marks,'g',{'clip-path':'url(#'+clip+')'});
  
  
  const order=vVal.map((v,i)=>i).sort((a,b)=>Math.abs(vVal[a])-Math.abs(vVal[b]));
  order.forEach(i=>{
    const cx=xAt(col,vLat[i]),cy=yDepth3(vDep[i]),v=vVal[i],strong=Math.abs(v)>=0.5;
    const k=strong?1:1.6;
    const e=add(g,'ellipse',{cx,cy,rx:vLatH[i]*3944*k,ry:vDepH[i]*8.56*k,
      fill:strong?devColor(v):(v>0?'url(#softYellow)':'url(#softGreen)'),
      opacity:strong?1:Math.min(1,Math.abs(v)/0.42),
      transform:'rotate('+vTilt[i]+' '+cx+' '+cy+')'});
    
    
  });
  pLat.forEach((ls,j)=>{
    const pts=ls.map((lat,i)=>xAt(col,lat).toFixed(1)+','+yDepth3(pDep[j][i]).toFixed(1)).join(' ');
    const p=add(g,'polygon',{points:pts,fill:devColor(pVal[j])});
    
    
  });
  drawContours(g,col,levels,arrays,null,yDepth3,2.2);
  drawExtras(g,col,exLat,exDep,yDepth3,2.2);
  drawTexts(g,col,labT,labLat,labDep,yDepth3,'#050505');
  whiteMask(col,640,687,423);
  drawAxes(col,642,857,yDepth3,depthTicks,depthTicks,depthLabels,894,17);
}
function devColor(v){
  if(v>=1)return '#000000';
  if(v>=0.5)return '#ff0000';
  if(v<=-1)return '#00ffff';
  if(v<=-0.5)return '#0000ff';
  return v>0?'#ffff00':'#00d000';
}

/* ---------- density panels (J, K, L) ---------- */
function drawDensPanel(col,levels,arrays,contourArrays,surf,topT,labT,labLat,labDens,exLat,exDens,denseFrom){
  const x0=COL_X[col];
  [2.5,2.75,3].forEach(v=>{
    const g=add(marks,'line',{x1:x0,x2:x0+PANEL_W,y1:yDens(v),y2:yDens(v),stroke:'#e2e2e2','stroke-width':4});
    
    
  });
  xTicks.forEach(lat=>{
    const g=add(marks,'line',{x1:xAt(col,lat),x2:xAt(col,lat),y1:933,y2:1010,stroke:'#e2e2e2','stroke-width':4});
    
    
  });
  const pts=stations.map((lat,i)=>xAt(col,lat).toFixed(1)+','+yDens(surf[i]).toFixed(1));
  pts.push((x0+PANEL_W)+','+yDens(surf[surf.length-1]).toFixed(1));
  pts.push((x0+PANEL_W)+',1147');
  pts.push(x0+',1147');
  const clip=makeClip(pts.join(' '));
  drawField(col,levels,arrays,surf,yDens,clip,topT);
  const g=add(marks,'g',{'clip-path':'url(#'+clip+')'});
  
  
  dots(g,col,yDens(2.6),yDens(denseFrom),'dotsSparse',clip);
  dots(g,col,yDens(denseFrom),1147,'dotsDense',clip);
  drawContours(g,col,levels,contourArrays,surf,yDens,2.2);
  drawExtras(g,col,exLat,exDens,yDens,2.2);
  drawTexts(g,col,labT,labLat,labDens,yDens,'#050505');
  whiteMask(col,925,978,430);
  drawAxes(col,933,1147,yDens,densTicks,densLabelTicks,densLabels,1186,9);
}

/* ---------- colorbars ---------- */
function drawTempBar(top){
  const r=add(marks,'rect',{x:1742,y:top,width:46,height:215,fill:'url(#tempGradient)',stroke:'#333','stroke-width':5});
  
  
  tempTicks.forEach(t=>{
    const y=yTemp(top,t);
    const tk=add(marks,'line',{x1:1782,x2:1788,y1:y,y2:y,stroke:'#333','stroke-width':3});
    
    
    const l=add(marks,'text',{x:1803,y:y+9,'font-size':26},String(t));
    
    
  });
}
function drawDevBar(){
  const top=642,h=215,yV=v=>top+(2-v)*h/4;
  devBandColors.forEach((c,i)=>{
    const r=add(marks,'rect',{x:1742,y:yV(devBounds[i]),width:46,height:yV(devBounds[i+1])-yV(devBounds[i]),fill:c});
    
    
  });
  const f=add(marks,'rect',{x:1742,y:top,width:46,height:h,fill:'none',stroke:'#333','stroke-width':5});
  
  
  devTicks.forEach(t=>{
    const l=add(marks,'text',{x:1803,y:yV(t)+9,'font-size':26},String(t));
    
    
  });
}

/* ---------- legend ---------- */
[[134,'4 4.5','legend-line-3m'],[167,'19 15','legend-line-15m'],[200,'none','legend-line-25m']].forEach(e=>{
  const l=add(marks,'line',{x1:1755,x2:1886,y1:e[0],y2:e[0],stroke:'#0a0a0a','stroke-width':4.5,'stroke-dasharray':e[1]});
  
  
});

/* ---------- assemble ---------- */
drawTimeBar(0,timeTicksA,timeLabelsA);
drawTimeBar(1,timeTicksB,timeLabelsB);
drawTimeBar(2,timeTicksC,timeLabelsC);
drawBuoyPanel(0,buoyA3,buoyA15,buoyA25);
drawBuoyPanel(1,buoyB3,buoyB15,buoyB25);
drawBuoyPanel(2,buoyC3,buoyC15,buoyC25);

const levD=[2,3,4,5,6,7,8,9,10,11,12],isoD=[D2,D3,D4,D5,D6,D7,D8,D9,D10,D11,D12];
const levE=[2,3,4,5,6,7,8,9,10,11,12],isoE=[E2,E3,E4,E5,E6,E7,E8,E9,E10,E11,E12];
const levF=[2,3,4,5,6,7,8,9,10,11,12,13],isoF=[F2,F3,F4,F5,F6,F7,F8,F9,F10,F11,F12,F13];
drawDepthPanel(0,levD,isoD,12.4,whiteLatD,whiteDepD,whiteTextD,whiteTextLatD,whiteTextDepD,labelTextD,labelLatD,labelDepD,extraLatD,extraDepD);
drawDepthPanel(1,levE,isoE,12.5,whiteLatE,whiteDepE,whiteTextE,whiteTextLatE,whiteTextDepE,labelTextE,labelLatE,labelDepE,extraLatE,extraDepE);
drawDepthPanel(2,levF,isoF,13.4,whiteLatF,whiteDepF,whiteTextF,whiteTextLatF,whiteTextDepF,labelTextF,labelLatF,labelDepF,extraLatF,extraDepF);
drawDevPanel(0,levD,isoD,devGLat,devGDep,devGVal,devGLatHalf,devGDepHalf,devGTilt,[],[],[],labelTextG,labelLatG,labelDepG,extraLatD,extraDepD);
drawDevPanel(1,levE,isoE,devHLat,devHDep,devHVal,devHLatHalf,devHDepHalf,devHTilt,polyHVal,polyHLat,polyHDep,labelTextH,labelLatH,labelDepH,extraLatE,extraDepE);
drawDevPanel(2,levF,isoF,devILat,devIDep,devIVal,devILatHalf,devIDepHalf,devITilt,polyIVal,polyILat,polyIDep,labelTextI,labelLatI,labelDepI,extraLatF,extraDepF);
const levRow4=[2,3,4,5,6,7,8,9,10,11,12];
const isoJ=[J2,J3,J4,J5,J6,J7,J8,J9,J10,J11,J12];
const isoK=[K2,K3,K4,K5,K6,K7,K8,K9,K10,K11,K12];
const isoL=[L2,L3,L4,L5,L6,L7,L8,L9,L10,L11,L12];
const isoLContour=[L2,L3,L4,L5,L6,L7,L8,L9,L10,L11,L12Contour];
drawDensPanel(0,levRow4,isoJ,isoJ,surfJ,12.4,labelTextJ,labelLatJ,labelDensJ,extraLatJ,extraDensJ,4.1);
drawDensPanel(1,levRow4,isoK,isoK,surfK,12.4,labelTextK,labelLatK,labelDensK,extraLatK,extraDensK,4.1);
drawDensPanel(2,levRow4,isoL,isoLContour,surfL,12.3,labelTextL,labelLatL,labelDensL,extraLatL,extraDensL,4.15);
drawTempBar(352);
drawDevBar();
drawTempBar(933);
</script>
</body>
</html>
